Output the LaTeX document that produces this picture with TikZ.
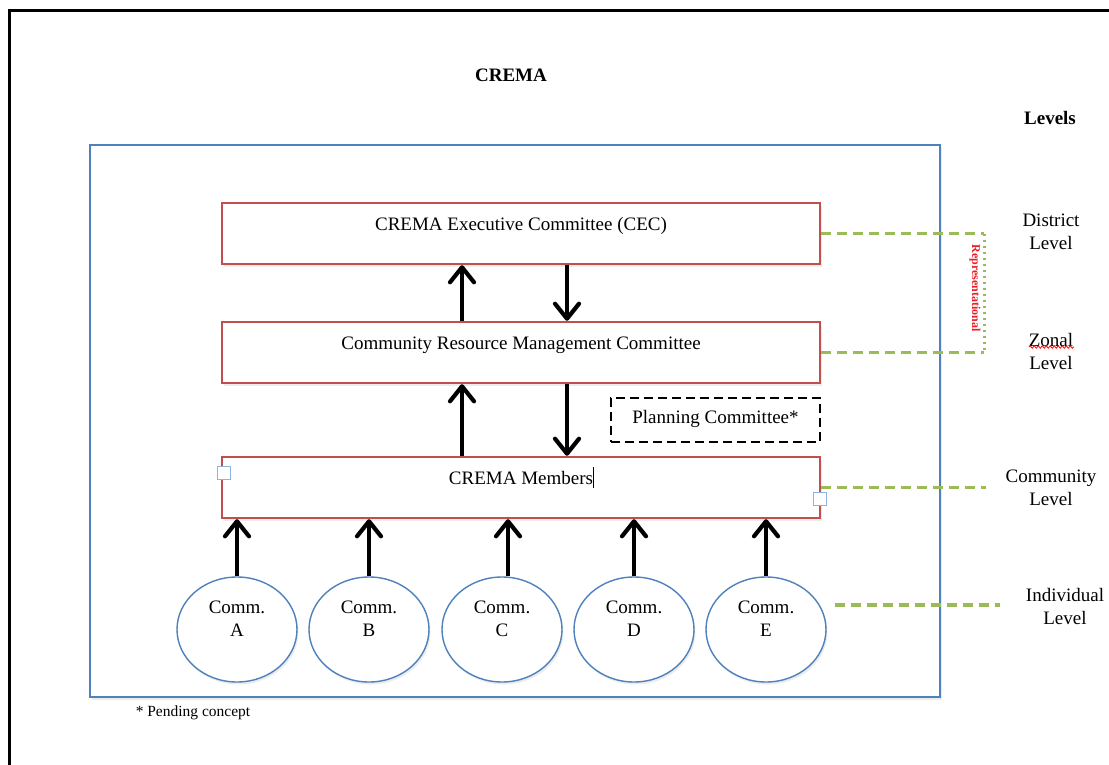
\documentclass[tikz,border=0pt]{standalone}
\usepackage{fontspec}
\setmainfont{Liberation Serif}
\usetikzlibrary{arrows.meta,shadows,shapes.geometric,decorations.pathmorphing}
\definecolor{boxred}{HTML}{C0504D}
\definecolor{frameblue}{HTML}{4F81BD}
\definecolor{levelgreen}{HTML}{9BBB59}
\definecolor{handleblue}{HTML}{8DB3E2}
\definecolor{repred}{HTML}{E8202A}
\tikzset{
    soft-shadow/.style = {drop shadow={opacity=0.15, shadow xshift=1.5pt, shadow yshift=-2.5pt}},
    outer-frame/.style = {draw=frameblue, fill=white, line width=1.2pt, rectangle, minimum width=850pt, minimum height=552pt, soft-shadow},
    committee-box/.style = {draw=boxred, fill=white, line width=2.4pt, rectangle, minimum width=598pt, inner sep=0pt, text height=27pt, text depth=34pt, font=\fontsize{19}{23}\selectfont, soft-shadow},
    planning-box/.style = {draw=black, line width=1.6pt, dash pattern=on 9pt off 5pt, rectangle, minimum width=209pt, inner sep=0pt, text height=25pt, text depth=19pt, font=\fontsize{19}{23}\selectfont},
    comm-ellipse/.style = {draw=frameblue, fill=white, line width=1.4pt, ellipse, minimum width=120pt, minimum height=105pt, inner sep=0pt, soft-shadow},
    comm-label/.style = {anchor=north, yshift=-24pt, inner sep=0pt, align=center, font=\fontsize{19}{23}\selectfont},
    flow-arrow/.style = {line width=4.2pt, -{Straight Barb[length=15pt, width=24pt, round]}},
    level-line/.style = {draw=levelgreen, line width=3.6pt, dash pattern=on 10pt off 6pt},
    rep-line/.style = {draw=levelgreen, line width=3pt, dash pattern=on 2.5pt off 3.5pt},
    level-text/.style = {align=center, inner sep=0pt, font=\fontsize{19}{23}\selectfont},
    head-text/.style = {font=\fontsize{19}{23}\selectfont\bfseries},
    rep-text/.style = {rotate=-90, text=repred, inner sep=0pt, font=\fontsize{12}{14}\selectfont\bfseries},
    handle/.style = {draw=handleblue, fill=white, line width=1.2pt, rectangle, minimum size=13pt, inner sep=0pt},
}

\begin{document}
\begin{tikzpicture}[x=1pt, y=-1pt]
\useasboundingbox (0,0) rectangle (1109,765);
\draw[line width=3pt] (9,765) -- (9,11) -- (1109,11);

\node[head-text] (title) at (511,75) {CREMA};
\node[head-text] (levels) at (1050,118) {Levels};

\node[outer-frame] (crema) at (515,421) {};

\node[committee-box] (cec) at (521,233.5) {CREMA Executive Committee (CEC)};
\node[committee-box] (crmc) at (521,352.5) {Community Resource Management Committee};
\node[committee-box] (members) at (521,487.5) {CREMA Members};
\node[planning-box] (planning) at (715.5,420) {Planning Committee*};

\node[handle] (handle-left) at (224,473) {};
\node[handle] (handle-right) at (820,499) {};
\draw[line width=1pt] (593,467) -- (593,488);

\node[comm-ellipse, label={[comm-label]north:{Comm.\\A}}] (comm-a) at (237,629.5) {};
\node[comm-ellipse, label={[comm-label]north:{Comm.\\B}}] (comm-b) at (369,629.5) {};
\node[comm-ellipse, label={[comm-label]north:{Comm.\\C}}] (comm-c) at (502,629.5) {};
\node[comm-ellipse, label={[comm-label]north:{Comm.\\D}}] (comm-d) at (634,629.5) {};
\node[comm-ellipse, label={[comm-label]north:{Comm.\\E}}] (comm-e) at (766,629.5) {};

\draw[flow-arrow] ([xshift=-59pt]crmc.north) -- ([xshift=-59pt]cec.south);
\draw[flow-arrow] ([xshift=46pt]cec.south) -- ([xshift=46pt]crmc.north);
\draw[flow-arrow] ([xshift=-59pt]members.north) -- ([xshift=-59pt]crmc.south);
\draw[flow-arrow] ([xshift=46pt]crmc.south) -- ([xshift=46pt]members.north);

\draw[flow-arrow] (comm-a.north) -- (comm-a.north |- members.south);
\draw[flow-arrow] (comm-b.north) -- (comm-b.north |- members.south);
\draw[flow-arrow] ([xshift=6pt]comm-c.north) -- ([xshift=6pt]comm-c.north |- members.south);
\draw[flow-arrow] (comm-d.north) -- (comm-d.north |- members.south);
\draw[flow-arrow] (comm-e.north) -- (comm-e.north |- members.south);

\draw[level-line] (cec.east) -- ++(163,0) coordinate (cec-end);
\draw[level-line] (crmc.east) -- ++(163,0) coordinate (crmc-end);
\draw[rep-line] (cec-end) -- (crmc-end);
\node[rep-text] (rep) at (975,288) {Representational};
\draw[level-line] (members.east) -- ++(165,0) coordinate (members-end);
\coordinate (indiv-start) at (835,605);
\coordinate (indiv-end) at (1000,605);
\draw[level-line] (indiv-start) -- (indiv-end);

\node[level-text] (district) at (1051,232) {District\\Level};
\node[level-text] (zonal) at (1051,351) {Zonal\\Level};
\draw[red, line width=0.8pt, decorate, decoration={snake, amplitude=1.2pt, segment length=4pt}] (1029,347) -- (1074,347);
\node[level-text] (community) at (1051,487.5) {Community\\Level};
\node[level-text] (individual) at (1065,606.5) {Individual\\Level};

\node[font=\fontsize{15.5}{18}\selectfont] (note) at (193,713) {* Pending concept};
\end{tikzpicture}
\end{document}
